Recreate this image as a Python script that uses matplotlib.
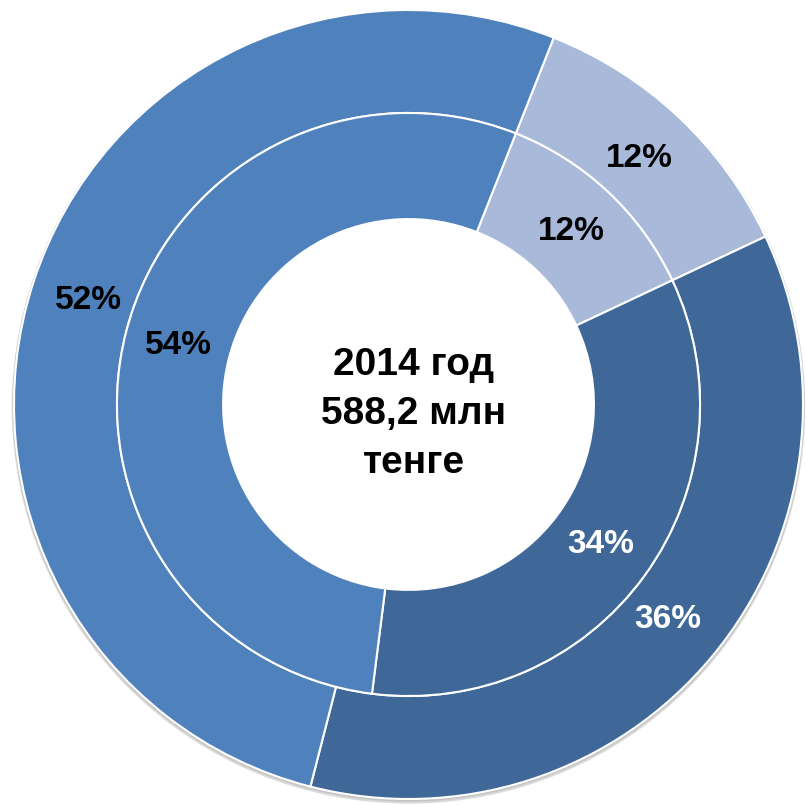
import matplotlib.pyplot as plt
from matplotlib.patches import Circle

plt.rcParams['font.family'] = ['Liberation Sans', 'DejaVu Sans']

# outer ring / inner ring shares (order: light, dark, medium)
outer_vals = [12, 36, 52]
inner_vals = [12, 34, 54]
colors = ['#A9B9D9', '#3F6899', '#4F81BD']
text_colors = ['black', 'white', 'black']
center_label = '2014 год\n588,2 млн\nтенге'

fig = plt.figure(figsize=(8.06, 8.05), dpi=100)
ax = fig.add_axes([0, 0, 1, 1])

# soft shadow under the outer ring, white hole in the middle
ax.add_patch(Circle((0, -0.006), 1.004, color='#dadada', zorder=0))
ax.add_patch(Circle((0, -0.003), 1.002, color='#c4c4c4', zorder=0))
ax.add_patch(Circle((0, 0), 0.47, color='white', zorder=0.5))

wedge_kw = dict(edgecolor='white', linewidth=1.5)
start = 68.4

w1, t1, a1 = ax.pie(outer_vals, radius=1.0, colors=colors, startangle=start,
                    counterclock=False, autopct='%d%%', pctdistance=0.854,
                    wedgeprops=dict(width=1.0 - 0.739, **wedge_kw))
w2, t2, a2 = ax.pie(inner_vals, radius=0.739, colors=colors, startangle=start,
                    counterclock=False, autopct='%d%%', pctdistance=0.816,
                    wedgeprops=dict(width=0.739 - 0.470, **wedge_kw))

for autos in (a1, a2):
    for a, c in zip(autos, text_colors):
        a.set_color(c)
        a.set_fontsize(24)
        a.set_fontweight('bold')

ax.text(0.014, -0.024, center_label, ha='center', va='center', fontsize=28,
        fontweight='bold', linespacing=1.45)

ax.set_xlim(-1.0355, 1.0076)
ax.set_ylim(-1.0152, 1.0253)
ax.set_aspect('equal')
ax.axis('off')

fig.savefig('out.png', dpi=100)
